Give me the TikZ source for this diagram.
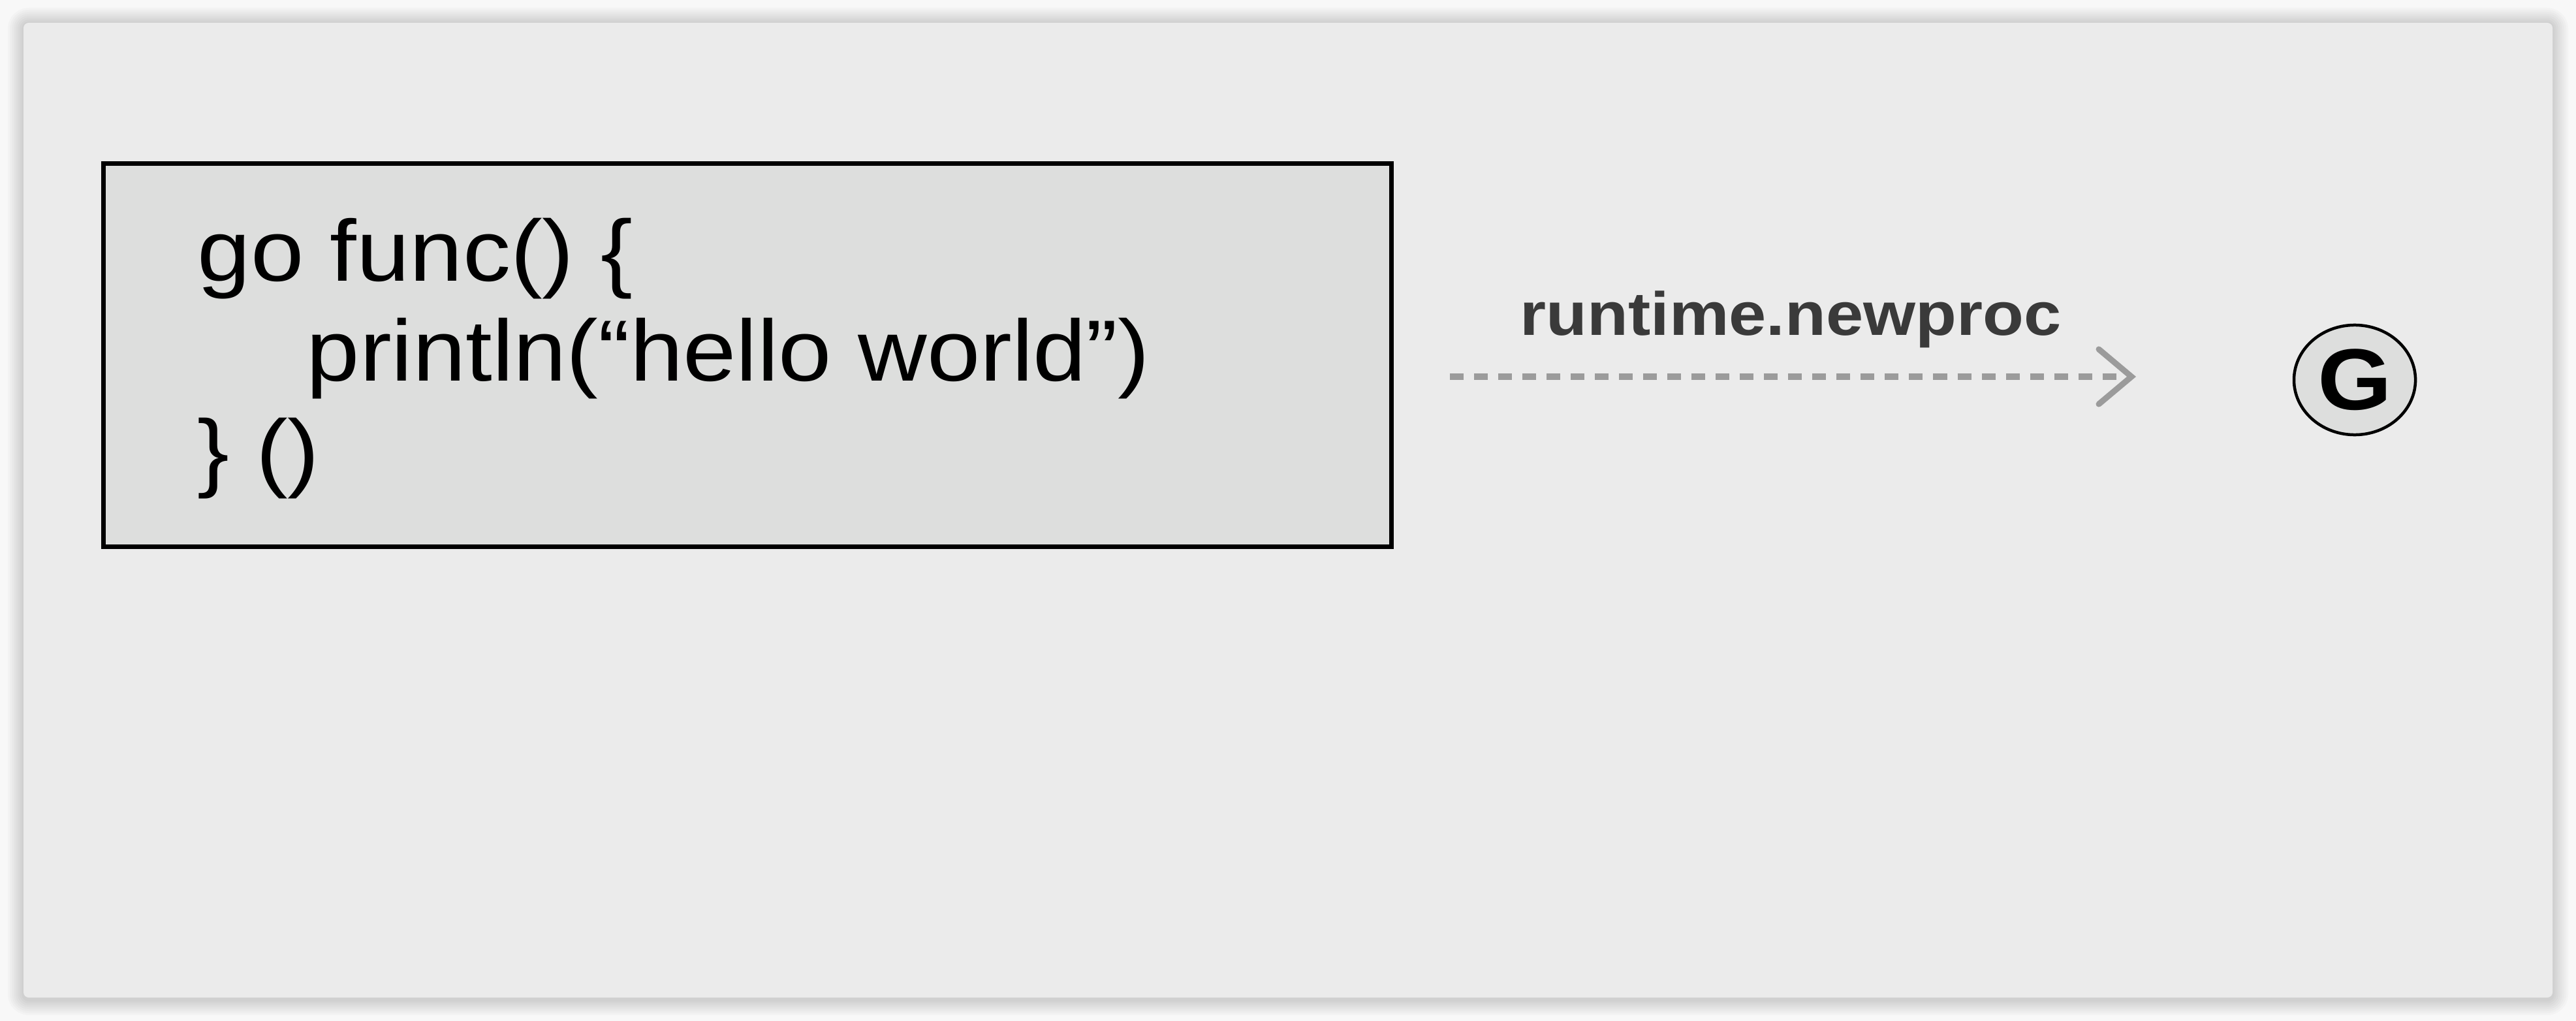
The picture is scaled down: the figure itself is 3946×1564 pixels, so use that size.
\documentclass[tikz,border=0pt]{standalone}
\usepackage{fontspec}
\usepackage{tikz}
\usetikzlibrary{arrows.meta, positioning, shapes.geometric}
\usepackage{xcolor}
\newfontfamily\slidefont[FakeStretch=1.1]{Liberation Sans}
\definecolor{pagebg}{RGB}{248, 248, 248}
\definecolor{panelgray}{RGB}{235, 235, 235}
\definecolor{codegray}{RGB}{221, 222, 221}
\definecolor{labelgray}{RGB}{58, 58, 58}
\definecolor{dashgray}{RGB}{155, 155, 155}

\begin{document}
\begin{tikzpicture}[x=0.01cm, y=-0.01cm,
  every node/.style={font=\slidefont},
  codebox/.style={draw, line width=0.07cm, fill=codegray, minimum width=19.71cm, minimum height=5.87cm, inner sep=0},
  codeline/.style={anchor=base west, inner sep=0, font=\slidefont\fontsize{37.8}{44}\selectfont},
  calllabel/.style={anchor=base, inner sep=0, text=labelgray, font=\slidefont\bfseries\fontsize{26.6}{30}\selectfont},
  gnode/.style={ellipse, draw, line width=0.045cm, fill=codegray, minimum width=1.86cm, minimum height=1.68cm, inner sep=0, font=\slidefont\bfseries\fontsize{37.8}{44}\selectfont},
  flow/.style={dashgray, line width=0.09cm, dash pattern=on 0.21cm off 0.16cm, -{Straight Barb[length=0.5cm, width=0.84cm, line cap=round]}}]
\useasboundingbox[fill=pagebg] (0,0) rectangle (3946,1564);
% slide panel with soft shadow
\foreach \d in {3,6,...,24} {
  \fill[black, opacity=0.018, rounded corners=0.08cm+\d*0.01cm] (36-\d,36-\d) rectangle (3910+\d,1531+\d);
}
\fill[panelgray, rounded corners=0.08cm] (36,35) rectangle (3910,1528);

\node[codebox] (code) at (1145,544) {};
\node[codeline] (line1) at (302,430) {go func() \{};
\node[codeline] (line2) at (469,583) {println(“hello world”)};
\node[codeline] (line3) at (302,736) {\} ()};

\node[gnode] (G) at (3607,582) {G};

\coordinate (start) at (2221,577);
\coordinate (tip) at (3272,577);
\draw[flow] (start) -- (tip);
\node[calllabel] (call) at (2743,513) {runtime.newproc};
\end{tikzpicture}
\end{document}
